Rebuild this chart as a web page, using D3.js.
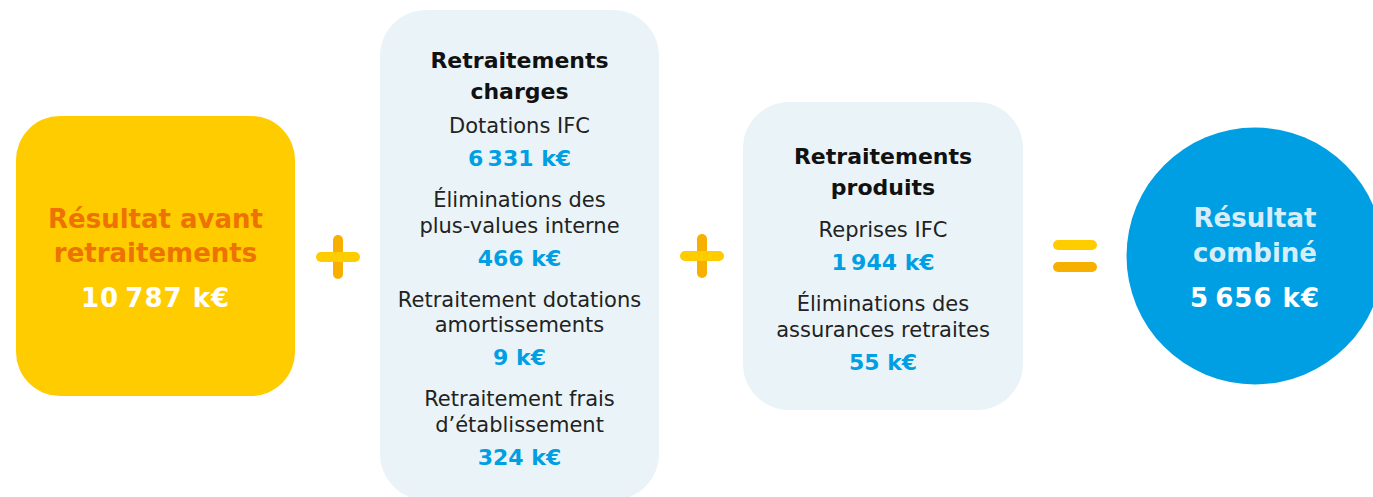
<!DOCTYPE html>
<html>
<head>
<meta charset="utf-8">
<script src="https://cdn.jsdelivr.net/npm/d3@7/dist/d3.min.js"></script>
<style>
  html, body { margin: 0; padding: 0; background: #ffffff; }
  svg { display: block; }
  text { font-family: "DejaVu Sans", "Liberation Sans", sans-serif; }
</style>
</head>
<body>
<svg id="chart" width="1373" height="497"></svg>
<script>
// ---- data ----
const startTitle = ["Résultat avant", "retraitements"];
const startValue = 10787;

const chargesTitle = ["Retraitements", "charges"];
const chargesLabels = [
  ["Dotations IFC"],
  ["Éliminations des", "plus-values interne"],
  ["Retraitement dotations", "amortissements"],
  ["Retraitement frais", "d’établissement"]
];
const chargesValues = [6331, 466, 9, 324];

const produitsTitle = ["Retraitements", "produits"];
const produitsLabels = [
  ["Reprises IFC"],
  ["Éliminations des", "assurances retraites"]
];
const produitsValues = [1944, 55];

const endTitle = ["Résultat", "combiné"];
const endValue = 5656;

// ---- helpers ----
const locale = d3.formatLocale({ decimal: ",", thousands: "\u202F", grouping: [3], currency: ["", " k€"] });
const fmt = v => locale.format(",d")(v) + " k€";

const C = {
  yellow: "#FFCC00", yellowDark: "#F8B000", orange: "#EE7203",
  blue: "#009FE3", panel: "#EAF4F8", light: "#D6EEFA", black: "#111111", grey: "#222222"
};

const svg = d3.select("#chart");

// left box
const left = { x: 16, y: 116, w: 279, h: 280, r: 44 };
svg.append("rect").attr("x", left.x).attr("y", left.y).attr("width", left.w).attr("height", left.h)
  .attr("rx", left.r).attr("fill", C.yellow);
const lcx = left.x + left.w / 2;
svg.selectAll("text.st").data(startTitle).join("text").attr("class", "st")
  .attr("x", lcx).attr("y", (d, i) => 228 + i * 34)
  .attr("text-anchor", "middle").attr("font-size", 26).attr("font-weight", "bold")
  .attr("fill", C.orange).text(d => d);
svg.append("text").attr("x", lcx).attr("y", 307).attr("text-anchor", "middle")
  .attr("font-size", 26).attr("font-weight", "bold").attr("fill", "#ffffff").attr("letter-spacing", 1)
  .text(fmt(startValue));

// plus / equals signs
function plus(cx, cy) {
  const g = svg.append("g");
  g.append("line").attr("x1", cx).attr("x2", cx).attr("y1", cy - 17).attr("y2", cy + 17)
    .attr("stroke", C.yellowDark).attr("stroke-width", 10).attr("stroke-linecap", "round");
  g.append("line").attr("x1", cx - 17).attr("x2", cx + 17).attr("y1", cy).attr("y2", cy)
    .attr("stroke", C.yellow).attr("stroke-width", 10).attr("stroke-linecap", "round");
}
plus(338, 257);
plus(702, 256);
svg.append("line").attr("x1", 1058).attr("x2", 1092).attr("y1", 245).attr("y2", 245)
  .attr("stroke", C.yellow).attr("stroke-width", 10).attr("stroke-linecap", "round");
svg.append("line").attr("x1", 1058).attr("x2", 1092).attr("y1", 267).attr("y2", 267)
  .attr("stroke", C.yellowDark).attr("stroke-width", 10).attr("stroke-linecap", "round");

// panel with items
function panel(box, title, labels, values, titleY, firstY) {
  svg.append("rect").attr("x", box.x).attr("y", box.y).attr("width", box.w).attr("height", box.h)
    .attr("rx", box.r).attr("fill", C.panel);
  const cx = box.x + box.w / 2;
  const g = svg.append("g");
  title.forEach((t, i) => {
    g.append("text").attr("x", cx).attr("y", titleY + i * 30.5).attr("text-anchor", "middle")
      .attr("font-size", 22).attr("font-weight", "bold").attr("fill", C.black).text(t);
  });
  let y = firstY;
  labels.forEach((lines, k) => {
    lines.forEach((t, i) => {
      g.append("text").attr("x", cx).attr("y", y + i * 25.5).attr("text-anchor", "middle")
        .attr("font-size", 21).attr("fill", C.grey).text(t);
    });
    const vy = y + (lines.length - 1) * 25.5 + 33;
    g.append("text").attr("x", cx).attr("y", vy).attr("text-anchor", "middle")
      .attr("font-size", 22).attr("font-weight", "bold").attr("fill", C.blue).text(fmt(values[k]));
    y = vy + 41;
  });
}
panel({ x: 380, y: 10, w: 279, h: 490, r: 46 }, chargesTitle, chargesLabels, chargesValues, 68, 133);
panel({ x: 743, y: 102, w: 280, h: 308, r: 46 }, produitsTitle, produitsLabels, produitsValues, 164, 237);

// circle
const circ = { cx: 1255, cy: 256, r: 128.5 };
svg.append("circle").attr("cx", circ.cx).attr("cy", circ.cy).attr("r", circ.r).attr("fill", C.blue);
svg.selectAll("text.et").data(endTitle).join("text").attr("class", "et")
  .attr("x", circ.cx).attr("y", (d, i) => 227 + i * 35)
  .attr("text-anchor", "middle").attr("font-size", 26).attr("font-weight", "bold")
  .attr("fill", C.light).text(d => d);
svg.append("text").attr("x", circ.cx).attr("y", 307).attr("text-anchor", "middle")
  .attr("font-size", 26).attr("font-weight", "bold").attr("fill", "#ffffff").attr("letter-spacing", 1)
  .text(fmt(endValue));
</script>
</body>
</html>
